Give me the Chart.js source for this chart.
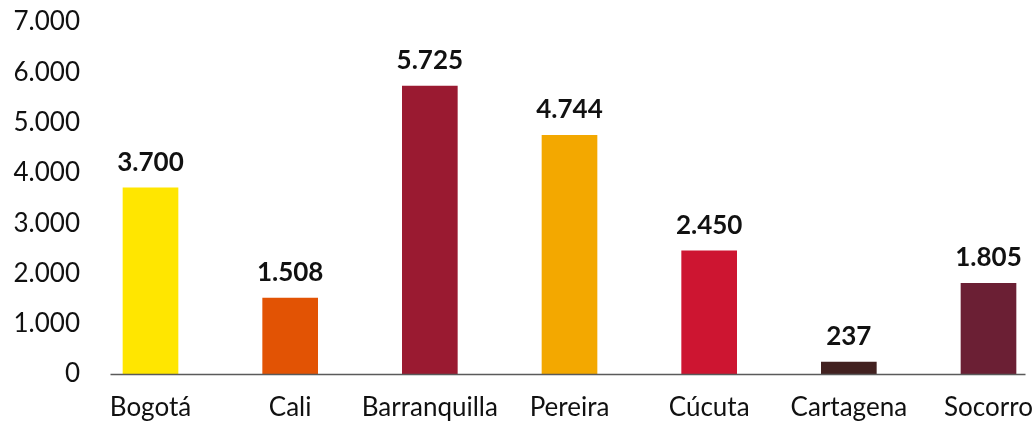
<!DOCTYPE html>
<html>
<head>
<meta charset="utf-8">
<script src="https://cdn.jsdelivr.net/npm/chart.js@4/dist/chart.umd.min.js"></script>
<style>
  html, body { margin: 0; padding: 0; background: #fff; overflow: hidden; }
</style>
</head>
<body>
<canvas id="cityChart" width="1033" height="422"></canvas>
<script>
const cities = ['Bogotá', 'Cali', 'Barranquilla', 'Pereira', 'Cúcuta', 'Cartagena', 'Socorro'];
const values = [3700, 1508, 5725, 4744, 2450, 237, 1805];
const barColors = ['#FFE600', '#E25304', '#9A1A31', '#F3A800', '#CD1531', '#422120', '#6B1F34'];
const yTicks = [0, 1000, 2000, 3000, 4000, 5000, 6000, 7000];

// thousands with a dot, like 3.700
const fmt = v => String(v).replace(/\B(?=(\d{3})+(?!\d))/g, '.');

// values above each bar
const valueLabels = {
  id: 'valueLabels',
  afterDatasetsDraw(chart) {
    const ctx = chart.ctx;
    const meta = chart.getDatasetMeta(0);
    ctx.save();
    ctx.font = 'bold 26px Lato';
    ctx.fillStyle = '#111';
    ctx.textAlign = 'center';
    ctx.textBaseline = 'alphabetic';
    meta.data.forEach((bar, i) => {
      ctx.fillText(fmt(values[i]), bar.x, bar.y - 17);
    });
    ctx.restore();
  }
};

// baseline that runs a bit past the outer bars
const baseLine = {
  id: 'baseLine',
  afterDatasetsDraw(chart) {
    const { ctx, chartArea, scales } = chart;
    const y = Math.round(scales.y.getPixelForValue(0)) + 0.5;
    ctx.save();
    ctx.strokeStyle = '#5a5a5a';
    ctx.lineWidth = 1.5;
    ctx.beginPath();
    ctx.moveTo(chartArea.left - 40, y);
    ctx.lineTo(chartArea.right + 37, y);
    ctx.stroke();
    ctx.restore();
  }
};

new Chart(document.getElementById('cityChart'), {
  type: 'bar',
  data: {
    labels: cities,
    datasets: [{
      data: values,
      backgroundColor: barColors,
      borderWidth: 0,
      barThickness: 55,
      clip: false
    }]
  },
  options: {
    responsive: false,
    animation: false,
    layout: { padding: { top: 22, right: 44.5, bottom: 0, left: 0 } },
    plugins: {
      legend: { display: false },
      tooltip: { enabled: false }
    },
    scales: {
      x: {
        offset: false,
        afterFit: scale => {
          scale.height = 48;
          scale.paddingLeft = 0;
          scale.paddingRight = 0;
        },
        grid: { display: false, drawTicks: false },
        border: { display: false },
        ticks: {
          color: '#111',
          padding: 18,
          maxRotation: 0,
          autoSkip: false,
          font: { family: 'Lato', size: 26 }
        }
      },
      y: {
        min: 0,
        max: 7000,
        afterBuildTicks: scale => { scale.ticks = yTicks.map(v => ({ value: v })); },
        afterFit: scale => {
          scale.width = 150.5;
          // tick padding is only meant to push labels left, not squeeze the plot
          scale.paddingTop = 0;
          scale.paddingBottom = 0;
        },
        grid: { display: false, drawTicks: false },
        border: { display: false },
        ticks: {
          color: '#111',
          padding: 70.5,
          font: { family: 'Lato', size: 26 },
          callback: v => fmt(v)
        }
      }
    }
  },
  plugins: [valueLabels, baseLine]
});
</script>
</body>
</html>
